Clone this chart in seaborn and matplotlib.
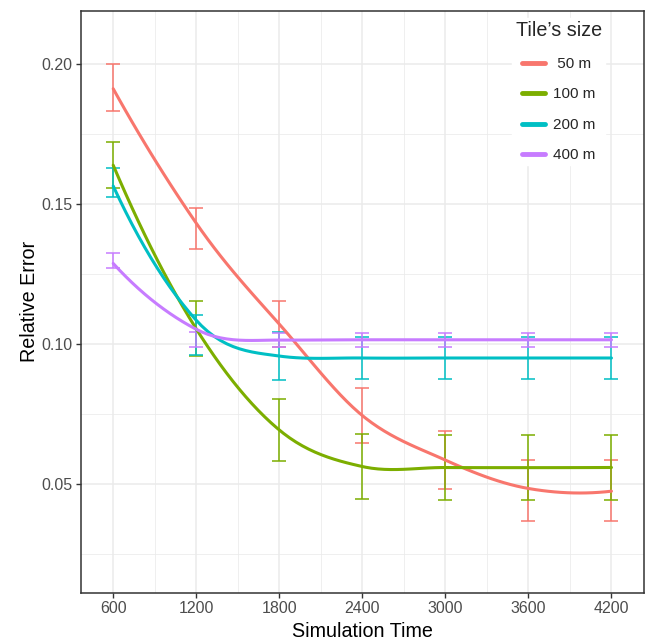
#!/usr/bin/env python3
"""
Relative error vs simulation time per tile size: error bars plus a loess-smoothed curve
(what ggplot's geom_smooth draws by default).
"""
import numpy as np
import pandas as pd
import matplotlib
matplotlib.use("Agg")
import matplotlib.pyplot as plt
from matplotlib.ticker import MultipleLocator
import seaborn as sns

# --- data ------------------------------------------------------------------
sim_time = [600, 1200, 1800, 2400, 3000, 3600, 4200]
tile_labels = [" 50 m", "100 m", "200 m", "400 m"]
colors = ["#F8766D", "#7CAE00", "#00BFC4", "#C77CFF"]

# lower / upper ends of the error bars
low_50 = [0.1833, 0.1339, 0.0988, 0.0645, 0.0481, 0.0368, 0.0368]
up_50 = [0.2000, 0.1485, 0.1154, 0.0844, 0.0690, 0.0585, 0.0585]
low_100 = [0.1556, 0.0957, 0.0582, 0.0446, 0.0443, 0.0443, 0.0443]
up_100 = [0.1720, 0.1154, 0.0804, 0.0679, 0.0675, 0.0675, 0.0675]
low_200 = [0.1526, 0.0961, 0.0871, 0.0874, 0.0874, 0.0874, 0.0874]
up_200 = [0.1630, 0.1104, 0.1043, 0.1026, 0.1026, 0.1026, 0.1026]
low_400 = [0.1270, 0.0990, 0.0989, 0.0990, 0.0990, 0.0990, 0.0990]
up_400 = [0.1324, 0.1044, 0.1039, 0.1040, 0.1040, 0.1040, 0.1040]

lows = [low_50, low_100, low_200, low_400]
ups = [up_50, up_100, up_200, up_400]


def local_fit(x, y, x0, span=0.75, degree=2):
    # weighted local quadratic around x0 (tricube weights); returns value and slope
    q = int(np.floor(len(x) * span))
    d = np.abs(x - x0)
    rho = np.sort(d)[q - 1]
    w = np.clip(1 - (d / rho) ** 3, 0, None) ** 3
    X = np.vander((x - x0) / 1000.0, degree + 1, increasing=True)
    sw = np.sqrt(w)
    beta = np.linalg.lstsq(X * sw[:, None], y * sw, rcond=None)[0]
    return beta[0], beta[1] / 1000.0


def loess(x, y, xs):
    # like R's loess(surface="interpolate"): kd-tree vertices fall on the data x's here,
    # fits are exact there and cubic Hermite in between
    x = np.asarray(x, float)
    y = np.asarray(y, float)
    verts = np.unique(x)
    vals, slopes = zip(*[local_fit(x, y, v) for v in verts])
    vals = np.array(vals)
    slopes = np.array(slopes)
    out = []
    for t in xs:
        i = min(np.searchsorted(verts, t, side="right") - 1, len(verts) - 2)
        h = verts[i + 1] - verts[i]
        s = (t - verts[i]) / h
        h00 = 2 * s**3 - 3 * s**2 + 1
        h10 = s**3 - 2 * s**2 + s
        h01 = -2 * s**3 + 3 * s**2
        h11 = s**3 - s**2
        out.append(h00 * vals[i] + h10 * h * slopes[i] + h01 * vals[i + 1] + h11 * h * slopes[i + 1])
    return np.array(out)


def main() -> None:
    sns.set_theme(style="white")
    plt.rcParams["font.family"] = ["Liberation Sans", "DejaVu Sans"]

    fig = plt.figure(figsize=(6.48, 6.44), dpi=100)
    ax = fig.add_axes([0.1245, 0.0792, 0.8693, 0.9042])

    xs = np.linspace(min(sim_time), max(sim_time), 80)
    frames = []
    for label, lo, hi in zip(tile_labels, lows, ups):
        mean = (np.array(lo) + np.array(hi)) / 2
        frames.append(pd.DataFrame({"time": xs, "err": loess(sim_time, mean, xs), "tile": label}))
    smooth = pd.concat(frames, ignore_index=True)

    # error bars first, smooth lines on top
    for label, lo, hi, c in zip(tile_labels, lows, ups, colors):
        lo = np.array(lo)
        hi = np.array(hi)
        mid = (lo + hi) / 2
        ax.errorbar(sim_time, mid, yerr=[mid - lo, hi - mid], fmt="none", ecolor=c,
                    elinewidth=1.1, capsize=4.8, capthick=1.1, zorder=2)

    sns.lineplot(data=smooth, x="time", y="err", hue="tile", palette=colors,
                 linewidth=2.2, ax=ax, zorder=3, sort=True)

    ax.set_xlim(365, 4435)
    ax.set_ylim(0.0111, 0.219)
    ax.set_xticks(sim_time)
    ax.set_yticks([0.05, 0.10, 0.15, 0.20])
    ax.set_yticklabels(["0.05", "0.10", "0.15", "0.20"])
    ax.xaxis.set_minor_locator(MultipleLocator(300))
    ax.yaxis.set_minor_locator(MultipleLocator(0.025))
    ax.grid(which="major", color="#EBEBEB", linewidth=1.1)
    ax.grid(which="minor", color="#EBEBEB", linewidth=0.55)
    ax.set_axisbelow(True)
    for s in ax.spines.values():
        s.set_color("#333333")
        s.set_linewidth(1.1)
    ax.tick_params(which="major", direction="out", length=3.5, width=1.0, color="#333333",
                   labelsize=11.5, labelcolor="#4D4D4D", pad=2.5, left=True, bottom=True)
    ax.tick_params(which="minor", length=0)

    ax.set_xlabel("Simulation Time", fontsize=14.2, color="black", labelpad=4)
    ax.set_ylabel("Relative Error", fontsize=14.2, color="black", labelpad=1.5)

    handles, labels = ax.get_legend_handles_labels()
    for h in handles:
        h.set_linewidth(3.5)
    leg = ax.legend(handles, labels, title="Tile’s size", loc="upper left",
                    bbox_to_anchor=(0.753, 1.0), frameon=True, fontsize=11,
                    title_fontsize=14.2, handlelength=1.52, handletextpad=0.55,
                    labelspacing=1.08, borderpad=0.2, fancybox=False)
    leg.get_frame().set_facecolor("white")
    leg.get_frame().set_edgecolor("white")
    leg.get_frame().set_alpha(1.0)

    fig.savefig("out.png", dpi=100)
    plt.close(fig)


if __name__ == "__main__":
    main()
